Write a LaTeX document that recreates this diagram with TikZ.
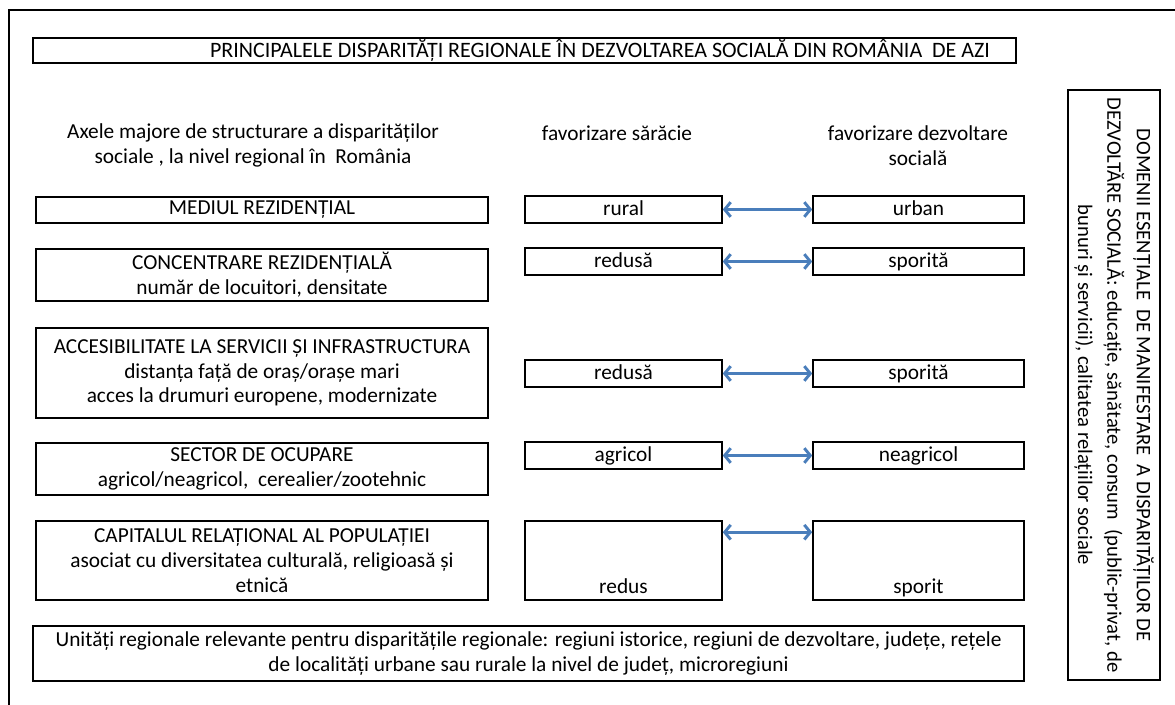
\documentclass[tikz,border=0pt]{standalone}
\usepackage{fontspec}
\setmainfont{Carlito}
\usetikzlibrary{arrows.meta}

\definecolor{arrowblue}{RGB}{74,126,187}
\newcommand{\px}{0.75pt}

\tikzset{
  box/.style = {draw, line width=1.2pt, inner sep=0pt, align=flush center,
                font=\fontsize{16}{18.5}\selectfont},
  axbox/.style = {box, minimum width=452*\px},
  sarbox/.style = {box, minimum width=197*\px, minimum height=27*\px,
                   text height=12.5pt, text depth=3pt},
  dezbox/.style = {box, minimum width=211*\px, minimum height=27*\px,
                   text height=12.5pt, text depth=3pt},
  head/.style = {align=flush center, inner sep=0pt, font=\fontsize{16}{19}\selectfont},
  link/.style = {arrowblue, line width=2.2pt,
                 {Straight Barb[length=4.5pt,width=11pt]}-{Straight Barb[length=4.5pt,width=11pt]}}
}

\begin{document}
\begin{tikzpicture}[x=0.75pt,y=-0.75pt]

    \useasboundingbox (0,0) rectangle (1175,704);
    \draw[line width=1.5pt] (9,720) -- (9,10) -- (1190,10);

    \node[box, minimum width=983*\px, minimum height=25*\px,
          text width=931*\px, align=flush right, font=\fontsize{16.5}{18.5}\selectfont] (title) at (524.5,50.5)
          {PRINCIPALELE DISPARITĂȚI REGIONALE ÎN DEZVOLTAREA SOCIALĂ DIN ROMÂNIA ~DE AZI};

    % column heads
    \node[head] (hax) at (253,145.5) {Axele majore de structurare a disparităților\\sociale , la nivel regional în ~România};
    \node[head] (hsar) at (617,133) {favorizare sărăcie};
    \node[head] (hdez) at (918,145.5) {favorizare dezvoltare\\socială};

    % axes
    \node[axbox, minimum height=26*\px] (ax1) at (262,210) {MEDIUL REZIDENȚIAL};
    \node[axbox, minimum height=52*\px] (ax2) at (262,275) {CONCENTRARE REZIDENȚIALĂ\\număr de locuitori, densitate};
    \node[axbox, minimum height=90*\px] (ax3) at (262,373) {ACCESIBILITATE LA SERVICII ȘI INFRASTRUCTURA\\distanța față de oraș/orașe mari\\acces la drumuri europene, modernizate};
    \node[axbox, minimum height=52*\px] (ax4) at (262,469) {SECTOR DE OCUPARE\\agricol/neagricol, ~cerealier/zootehnic};
    \node[axbox, minimum height=79*\px] (ax5) at (262,560.5) {CAPITALUL RELAȚIONAL AL POPULAȚIEI\\asociat cu diversitatea culturală, religioasă și\\etnică};

    % poverty side
    \node[sarbox] (sar1) at (623.5,209.5) {rural};
    \node[sarbox] (sar2) at (623.5,261.5) {redusă};
    \node[sarbox] (sar3) at (623.5,373.5) {redusă};
    \node[sarbox] (sar4) at (623.5,455.5) {agricol};
    \node[sarbox, text height=72*\px, text depth=7*\px, minimum height=0pt] (sar5) at (623.5,560.5) {redus};

    % development side
    \node[dezbox] (dez1) at (918.5,209.5) {urban};
    \node[dezbox] (dez2) at (918.5,261.5) {sporită};
    \node[dezbox] (dez3) at (918.5,373.5) {sporită};
    \node[dezbox] (dez4) at (918.5,455.5) {neagricol};
    \node[dezbox, text height=72*\px, text depth=7*\px, minimum height=0pt] (dez5) at (918.5,560.5) {sporit};

    \foreach \i in {1,...,4}
        \draw[link] (sar\i) -- (dez\i);
    \draw[link] ([yshift=-12*\px]sar5.north east) -- ([yshift=-12*\px]dez5.north west);

    % domains
    \node[box, rotate=-90, minimum width=590*\px, minimum height=92*\px,
          font=\fontsize{15.5}{22}\selectfont] (dom) at (1114,385)
          {DOMENII ESENȚIALE ~DE MANIFESTARE ~A DISPARITĂȚILOR DE\\DEZVOLTĂRE SOCIALĂ: educație, sănătate, consum ~(public-privat, de\\bunuri și servicii), calitatea relațiilor sociale};

    % units
    \node[box, minimum width=991*\px, minimum height=55*\px, text width=989*\px] (units) at (528.5,653.5)
          {Unități regionale relevante pentru disparitățile regionale: regiuni istorice, regiuni de dezvoltare, județe, rețele\\de localități urbane sau rurale la nivel de județ, microregiuni};

\end{tikzpicture}
\end{document}
